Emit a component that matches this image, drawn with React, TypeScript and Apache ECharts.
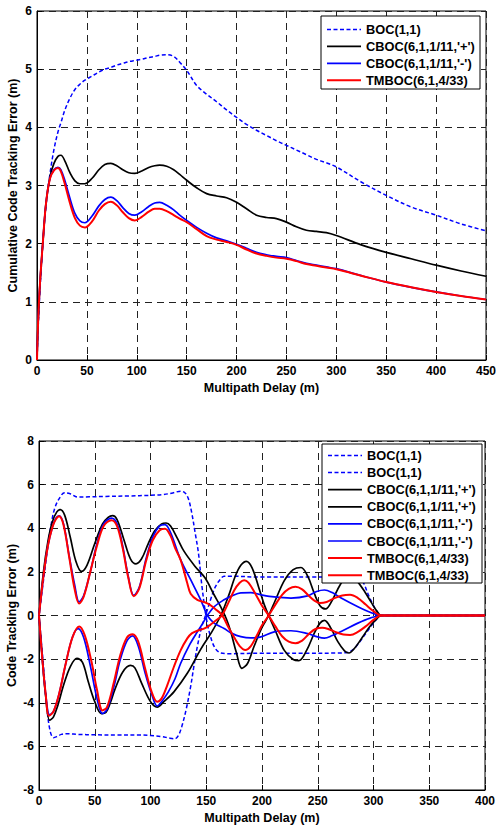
import React, { useEffect, useRef } from "react";
import * as echarts from "echarts";

// ---------- Top chart: cumulative code tracking error ----------
const topDelay = [0,1,3,6,9,13,17,21,24,28,33,38,43,48,55,62,68,74,80,86,92,98,105,112,118,123,130,137,143,150,160,170,180,190,200,210,220,230,240,250,260,270,280,290,300,325,350,375,400,425,450];
const topBoc = [0,0.5,1.2,2.05,2.65,3.2,3.62,3.92,4.08,4.3,4.5,4.65,4.74,4.81,4.88,4.95,5.0,5.03,5.07,5.1,5.13,5.15,5.17,5.2,5.22,5.24,5.25,5.22,5.12,4.98,4.72,4.57,4.44,4.3,4.17,4.05,3.95,3.86,3.77,3.69,3.61,3.53,3.45,3.39,3.32,3.06,2.83,2.63,2.49,2.34,2.22];
const topCbocPlus = [0,0.6,1.32,2.05,2.69,3.15,3.38,3.5,3.52,3.42,3.22,3.08,3.03,3.03,3.12,3.27,3.36,3.38,3.34,3.27,3.22,3.21,3.25,3.31,3.34,3.35,3.33,3.27,3.19,3.09,2.96,2.86,2.82,2.79,2.71,2.6,2.49,2.45,2.43,2.37,2.29,2.23,2.21,2.19,2.14,1.98,1.85,1.74,1.63,1.53,1.44];
const topCbocMinus = [0,0.6,1.32,2.05,2.69,3.13,3.27,3.31,3.27,3.08,2.78,2.52,2.39,2.36,2.47,2.65,2.76,2.8,2.74,2.62,2.52,2.49,2.55,2.64,2.7,2.71,2.66,2.58,2.49,2.4,2.28,2.18,2.1,2.05,1.99,1.92,1.85,1.81,1.78,1.76,1.71,1.66,1.63,1.6,1.57,1.45,1.34,1.25,1.17,1.1,1.04];
const topTmboc = [0,0.6,1.32,2.05,2.69,3.12,3.26,3.3,3.24,3.02,2.7,2.44,2.31,2.28,2.38,2.57,2.68,2.72,2.66,2.54,2.44,2.4,2.46,2.55,2.6,2.6,2.56,2.49,2.43,2.37,2.25,2.13,2.07,2.03,1.98,1.9,1.83,1.79,1.76,1.74,1.7,1.65,1.62,1.59,1.56,1.45,1.34,1.25,1.17,1.1,1.04];

// ---------- Bottom chart: code tracking error envelopes ----------
const bocUpDelay = [0,4,8,11,14,18,23,28,35,45,60,80,100,112,120,127,131,134,137,140,143,146,150,154,158,163,170,200,240,268,276,282,287,292,297,302,307,400];
const bocUpError = [0,1.6,3.2,4.2,4.9,5.35,5.63,5.58,5.43,5.44,5.46,5.48,5.51,5.55,5.62,5.7,5.62,5.35,4.7,3.8,2.86,1.4,-0.1,-1.0,-1.5,-1.72,-1.75,-1.73,-1.73,-1.72,-1.7,-1.55,-1.25,-0.9,-0.55,-0.22,0,0];
const bocLowDelay = [0,4,7,10,13,16,20,25,35,50,70,90,100,110,117,122,125,128,132,136,139,142,146,150,154,158,162,166,172,200,250,287,291,295,299,303,307,400];
const bocLowError = [0,-2.3,-4.2,-5.3,-5.6,-5.55,-5.45,-5.42,-5.45,-5.47,-5.48,-5.48,-5.5,-5.55,-5.62,-5.65,-5.5,-5.1,-4.3,-3.26,-2.3,-1.42,-0.5,0.1,0.75,1.3,1.62,1.8,1.8,1.76,1.77,1.76,1.5,1.0,0.55,0.2,0,0];

const cbocPlusUpDelay = [0,4,8,12,16,19,23,28,33,38,43,50,57,62,66,70,76,82,87,92,98,104,110,114,118,124,130,140,149,157,163,168,172,177,182,187,193,200,206,212,220,228,235,241,247,252,257,263,270,276,280,285,292,298,303,307,400];
const cbocPlusUpError = [0,2.0,3.4,4.3,4.75,4.85,4.6,3.6,2.5,2.02,2.3,3.3,4.2,4.5,4.58,4.4,3.5,2.6,2.37,2.6,3.3,3.9,4.2,4.24,4.1,3.55,2.95,2.25,1.72,0.95,0.4,-0.15,-0.75,-1.7,-2.42,-2.2,-1.4,-0.55,0,0.7,1.6,2.1,2.2,1.8,1.0,0.45,0.3,0.7,1.4,1.78,1.82,1.6,1.1,0.6,0.2,0,0];
const cbocPlusLowDelay = [0,3,6,9.5,13,17,22,28,34,39,44,50,56,60,64,68,75,82,86,92,100,106,112,121,133,145,155,163,170,176,181,186,191,197,202,206,212,220,228,233,240,247,252,256,262,268,274,278,283,290,296,302,307,400];
const cbocPlusLowError = [0,-2.0,-3.7,-4.8,-4.65,-4.1,-3.2,-2.35,-1.96,-2.15,-3.0,-3.95,-4.5,-4.45,-4.0,-3.4,-2.6,-2.29,-2.4,-3.1,-3.95,-4.2,-3.95,-3.5,-2.65,-1.55,-0.75,0,0.9,1.8,2.3,2.48,2.2,1.3,0.5,0,-0.7,-1.6,-2.02,-2.07,-1.6,-0.8,-0.35,-0.22,-0.6,-1.2,-1.62,-1.72,-1.5,-1.0,-0.55,-0.2,0,0];

const cbocMinusUpDelay = [0,4,8,12,15,18,22,27,32,36,40,46,52,58,65,70,75,80,85,90,96,102,108,113,118,127,136,145,148,151,157,166,173,181,190,199,211,226,241,249,256,263,271,286,297,307,400];
const cbocMinusUpError = [0,1.8,3.2,4.05,4.45,4.57,4.2,2.75,1.4,0.62,0.9,2.0,3.3,4.2,4.46,4.2,3.2,1.8,0.92,1.3,2.6,3.6,4.1,4.17,3.8,2.56,1.64,0.72,0.35,0,-0.35,-0.6,-0.82,-0.97,-1.03,-0.98,-0.75,-0.7,-0.83,-0.97,-1.04,-0.92,-0.73,-0.35,-0.12,0,0];
const cbocMinusLowDelay = [0,3,6,9.5,13,18,24,30,35,40,46,52,57,61,67,73,79,84,89,95,101,106,110,116,122,127,135,142,147,151,157,166,173,181,190,199,211,226,241,249,256,263,271,286,297,307,400];
const cbocMinusLowError = [0,-2.0,-3.6,-4.55,-4.4,-3.6,-2.2,-1.0,-0.6,-1.0,-2.3,-3.8,-4.5,-4.3,-3.3,-2.0,-1.15,-0.93,-1.4,-2.6,-3.6,-4.15,-3.95,-3.5,-2.9,-2.2,-1.35,-0.75,-0.35,0,0.4,0.72,0.9,1.04,1.05,0.95,0.85,0.8,0.9,1.1,1.17,1.05,0.8,0.4,0.15,0,0];

const tmbocUpDelay = [0,4,8,12,15,18,22,27,32,36,40,46,52,58,65,70,75,80,85,90,96,102,108,113,118,122,127,133,136,142,148,153,158,164,170,175,180,185,190,195,200,206,212,218,224,230,236,242,247,252,258,265,272,279,286,293,300,307,400];
const tmbocUpError = [0,1.8,3.2,4.05,4.4,4.55,4.15,2.7,1.2,0.55,0.85,2.0,3.2,4.1,4.37,4.1,3.1,1.75,0.88,1.25,2.5,3.45,3.9,3.98,3.65,3.1,2.55,1.48,1.0,0.72,0.62,0.5,0.3,0.03,-0.55,-1.0,-1.4,-1.58,-1.4,-0.95,-0.45,0,0.5,0.95,1.22,1.32,1.2,0.9,0.68,0.57,0.62,0.8,0.92,0.95,0.8,0.5,0.2,0,0];
const tmbocLowDelay = [0,3,6,9,13,18,24,30,36,41,47,52,57,61,67,73,79,84,89,95,101,106,110,115,121,127,133,137,142,148,153,158,164,170,175,180,184,188,194,200,206,212,218,224,230,236,242,248,254,260,267,273,279,286,293,300,307,400];
const tmbocLowError = [0,-2.0,-3.6,-4.6,-4.4,-3.6,-2.2,-1.0,-0.5,-0.9,-2.1,-3.4,-4.35,-4.2,-3.1,-1.8,-1.0,-0.86,-1.2,-2.4,-3.5,-3.95,-3.8,-3.2,-2.35,-1.6,-1.05,-0.82,-0.7,-0.6,-0.45,-0.25,0,0.6,1.15,1.5,1.62,1.5,1.0,0.45,0,-0.5,-0.95,-1.2,-1.27,-1.15,-0.85,-0.62,-0.56,-0.63,-0.78,-0.87,-0.89,-0.75,-0.5,-0.2,0,0];

// ---------- Labels ----------
const seriesNames = ["BOC(1,1)", "CBOC(6,1,1/11,'+')", "CBOC(6,1,1/11,'-')", "TMBOC(6,1,4/33)"];
const xAxisTitle = "Multipath Delay (m)";
const topYTitle = "Cumulative Code Tracking Error (m)";
const bottomYTitle = "Code Tracking Error (m)";

const FONT = "'Liberation Sans', Arial, Helvetica, sans-serif";
const BLUE = "#0000ff";
const RED = "#ff0000";
const BLACK = "#000000";
const styles = [
  { color: BLUE, dashed: true, width: 1.5 },
  { color: BLACK, dashed: false, width: 1.7 },
  { color: BLUE, dashed: false, width: 1.7 },
  { color: RED, dashed: false, width: 2 },
];

const pairs = (xs: number[], ys: number[]) => xs.map((x, i) => [x, ys[i]]);

function legendGraphic(names: string[], styleIdx: number[], x: number, y: number, w: number, h: number, row0: number, step: number) {
  const children: any[] = [
    { type: "rect", z: 100, shape: { x, y, width: w, height: h }, style: { fill: "#fff", stroke: "#000", lineWidth: 1 } },
  ];
  names.forEach((n, i) => {
    const s = styles[styleIdx[i]];
    const cy = row0 + i * step;
    children.push({
      type: "line",
      z: 101,
      shape: { x1: x + 6, y1: cy, x2: x + 40, y2: cy },
      style: { stroke: s.color, lineWidth: s.width, lineDash: s.dashed ? [4, 2.5] : null },
    });
    children.push({
      type: "text",
      z: 101,
      x: x + 45,
      y: cy,
      style: { text: n, fill: "#000", font: `bold 12.8px ${FONT}`, textVerticalAlign: "middle", textAlign: "left" },
    });
  });
  return { type: "group", z: 100, children };
}

export default function App() {
  const ref = useRef<HTMLDivElement>(null);
  useEffect(() => {
    if (!ref.current) return;
    const chart = echarts.init(ref.current, null, { renderer: "svg" });
    const labelStyle = { color: "#000", fontWeight: "bold" as const, fontSize: 12, fontFamily: FONT };
    const nameStyle = { color: "#000", fontWeight: "bold" as const, fontSize: 12.5, fontFamily: FONT };
    const split = { show: true, lineStyle: { color: "#222", type: [7, 5] as any, width: 1 } };
    const axisCommon = {
      axisLine: { show: true, onZero: false, lineStyle: { color: "#000", width: 1 } },
      axisTick: { show: true, inside: true, length: 5, lineStyle: { color: "#000" } },
      splitLine: split,
      nameMoveOverlap: false,
    };
    const mk = (name: string, data: number[][], st: any, xi: number) => ({
      type: "line",
      name,
      xAxisIndex: xi,
      yAxisIndex: xi,
      data,
      showSymbol: false,
      symbol: "none",
      smooth: 0.35,
      lineStyle: { color: st.color, width: st.width, type: st.dashed ? [4, 2.5] : "solid" },
      itemStyle: { color: st.color },
      z: 3,
    });
    const topSeries = [topBoc, topCbocPlus, topCbocMinus, topTmboc].map((ys, i) =>
      mk(seriesNames[i], pairs(topDelay, ys), styles[i], 0)
    );
    const bottomPairs = [
      [bocUpDelay, bocUpError, 0],
      [bocLowDelay, bocLowError, 0],
      [cbocPlusUpDelay, cbocPlusUpError, 1],
      [cbocPlusLowDelay, cbocPlusLowError, 1],
      [cbocMinusUpDelay, cbocMinusUpError, 2],
      [cbocMinusLowDelay, cbocMinusLowError, 2],
      [tmbocUpDelay, tmbocUpError, 3],
      [tmbocLowDelay, tmbocLowError, 3],
    ] as [number[], number[], number][];
    const bottomSeries = bottomPairs.map(([xs, ys, k]) => mk(seriesNames[k], pairs(xs, ys), styles[k], 1));

    chart.setOption({
      animation: false,
      backgroundColor: "#fff",
      grid: [
        { left: 37, top: 11, width: 449, height: 349, show: true, borderColor: "#000", borderWidth: 1, backgroundColor: "transparent", containLabel: false, outerBoundsMode: "none" },
        { left: 39, top: 441, width: 446, height: 349, show: true, borderColor: "#000", borderWidth: 1, backgroundColor: "transparent", containLabel: false, outerBoundsMode: "none" },
      ],
      xAxis: [
        {
          gridIndex: 0, type: "value", min: 0, max: 450, interval: 50,
          name: xAxisTitle, nameLocation: "middle", nameGap: 21, nameTextStyle: nameStyle,
          axisLabel: { ...labelStyle, margin: 5 }, ...axisCommon,
        },
        {
          gridIndex: 1, type: "value", min: 0, max: 400, interval: 50,
          name: xAxisTitle, nameLocation: "middle", nameGap: 21, nameTextStyle: nameStyle,
          axisLabel: { ...labelStyle, margin: 5 }, ...axisCommon,
        },
      ],
      yAxis: [
        {
          gridIndex: 0, type: "value", min: 0, max: 6, interval: 1,
          name: topYTitle, nameLocation: "middle", nameGap: 18, nameTextStyle: nameStyle,
          axisLabel: { ...labelStyle, margin: 5 }, ...axisCommon,
        },
        {
          gridIndex: 1, type: "value", min: -8, max: 8, interval: 2,
          name: bottomYTitle, nameLocation: "middle", nameGap: 21, nameTextStyle: nameStyle,
          axisLabel: { ...labelStyle, margin: 5 }, ...axisCommon,
        },
      ],
      series: [...topSeries, ...bottomSeries],
      graphic: [
        legendGraphic(seriesNames, [0, 1, 2, 3], 321, 16, 159, 73, 29.5, 16.9),
        legendGraphic(
          [seriesNames[0], seriesNames[0], seriesNames[1], seriesNames[1], seriesNames[2], seriesNames[2], seriesNames[3], seriesNames[3]],
          [0, 0, 1, 1, 2, 2, 3, 3],
          322, 444, 160, 139, 455.5, 17.1
        ),
      ],
    });
    return () => chart.dispose();
  }, []);
  return <div ref={ref} style={{ position: "fixed", left: 0, top: 0, width: 496, height: 825, background: "#fff" }} />;
}
